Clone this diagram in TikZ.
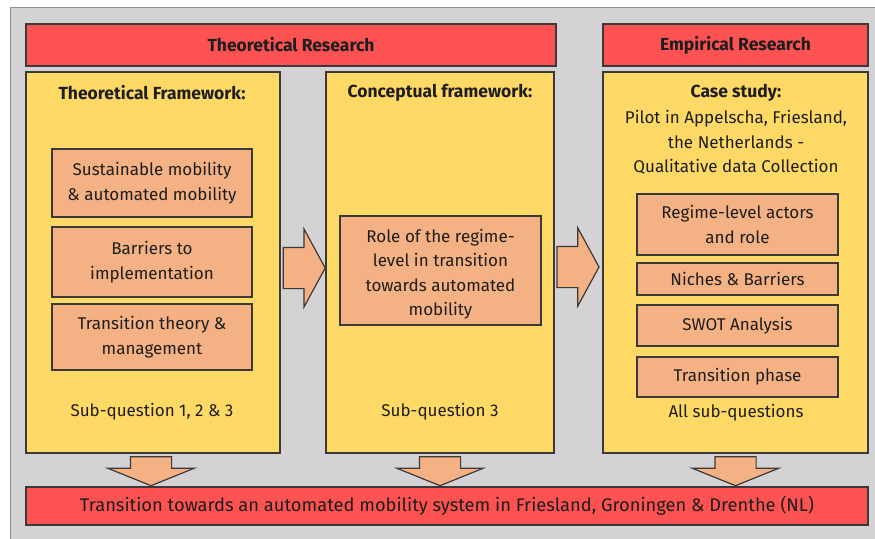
\documentclass[tikz,border=0pt]{standalone}
\usepackage{fontspec}
\setmainfont{Fira Sans}
\usetikzlibrary{shapes.arrows,calc}

\definecolor{panelgrey}{HTML}{D4D2D4}
\definecolor{panelline}{HTML}{8E8E8E}
\definecolor{barred}{HTML}{FD5252}
\definecolor{framefill}{HTML}{FFD966}
\definecolor{itemfill}{HTML}{F4B183}
\definecolor{edge}{HTML}{3A3A3A}
\definecolor{ink}{HTML}{1E1E1E}

\tikzset{
  txt/.style={font=\fontsize{17}{24.5}\selectfont, text=ink, align=center, inner sep=0pt},
  bold/.style={txt, font=\fontsize{17.5}{24.5}\selectfont\bfseries},
  redbar/.style={draw=edge, line width=1.2pt, fill=barred, inner sep=0pt},
  frame/.style={draw=edge, line width=1.2pt, fill=framefill, inner sep=0pt},
  item/.style={draw=edge, line width=1.2pt, fill=itemfill, inner sep=0pt, txt},
  fatright/.style={shape=single arrow, draw=edge, line width=1.2pt, fill=itemfill,
    inner xsep=0pt, inner ysep=20pt, single arrow head extend=18.5pt,
    single arrow tip angle=123, minimum height=42pt, anchor=tail},
  fatdown/.style={shape=single arrow, draw=edge, line width=1.2pt, fill=itemfill,
    rotate=-90, inner xsep=0pt, inner ysep=20pt,
    single arrow head extend=22.5pt, single arrow tip angle=136, minimum height=29pt,
    anchor=tail},
}

\begin{document}
\begin{tikzpicture}[x=1pt, y=-1pt]
\useasboundingbox (0,0) rectangle (875,538);
\fill[white] (0,0) rectangle (875,538);
\draw[panelline, fill=panelgrey, line width=1pt] (10,7) rectangle (880,545);

% headline bars
\node[redbar, bold, minimum width=530pt, minimum height=42pt] (theo) at (291,45) {Theoretical Research};
\node[redbar, bold, minimum width=265pt, minimum height=42pt] (emp) at (735.5,45) {Empirical Research};

% three columns
\node[frame, minimum width=254pt, minimum height=381pt] (tf) at (153,262.5) {};
\node[frame, minimum width=228pt, minimum height=381pt] (cf) at (440,262.5) {};
\node[frame, minimum width=265pt, minimum height=381pt] (cs) at (735.5,262.5) {};

% column headings
\node[bold] (tfhead) at (152,93) {Theoretical Framework:};
\node[bold] (cfhead) at (440,93) {Conceptual framework:};
\node[bold] (cshead) at (736,93) {Case study:};
\node[txt] (csdesc) at (736,142.5) {Pilot in Appelscha, Friesland,\\the Netherlands -\\Qualitative data Collection};

% theoretical framework items
\node[item, minimum width=200pt, minimum height=68pt] (sm) at (152,183) {Sustainable mobility\\\& automated mobility};
\node[item, minimum width=200pt, minimum height=70pt] (bi) at (152,262) {Barriers to\\implementation};
\node[item, minimum width=200pt, minimum height=66pt] (tt) at (152,337) {Transition theory \&\\management};

% conceptual framework item
\node[item, minimum width=201pt, minimum height=109pt] (rr) at (440.5,270.5) {};
\node[txt] (rrtext) at (440.5,274) {Role of the regime-\\level in transition\\towards automated\\mobility};

% case study items
\node[item, minimum width=201pt, minimum height=61pt] (ra) at (737.5,224.5) {Regime-level actors\\and role};
\node[item, minimum width=201pt, minimum height=32pt] (nb) at (737.5,279) {Niches \& Barriers};
\node[item, minimum width=201pt, minimum height=41pt] (sw) at (737.5,325.5) {SWOT Analysis};
\node[item, minimum width=201pt, minimum height=40pt] (tp) at (737.5,377) {Transition phase};

% sub-question notes
\node[txt] (sq1) at (152,412) {Sub-question 1, 2 \& 3};
\node[txt] (sq2) at (440,412) {Sub-question 3};
\node[txt] (sq3) at (736,413) {All sub-questions};

% outcome bar
\node[redbar, txt, font=\fontsize{18.3}{24.5}\selectfont, minimum width=842pt, minimum height=38pt] (out) at (447,506) {Transition towards an automated mobility system in Friesland, Groningen \& Drenthe (NL)};

% block arrows between the columns
\node[fatright] (a1) at ($(tf.east)+(2,5.5)$) {};
\node[fatright] (a2) at ($(cs.west)+(-46,4.5)$) {};

% block arrows into the outcome bar
\node[fatdown] (d1) at ($(tf.south)+(-2,2.5)$) {};
\node[fatdown] (d2) at ($(cf.south)+(0,2.5)$) {};
\node[fatdown] (d3) at ($(cs.south)+(0,2.5)$) {};
\end{tikzpicture}
\end{document}
